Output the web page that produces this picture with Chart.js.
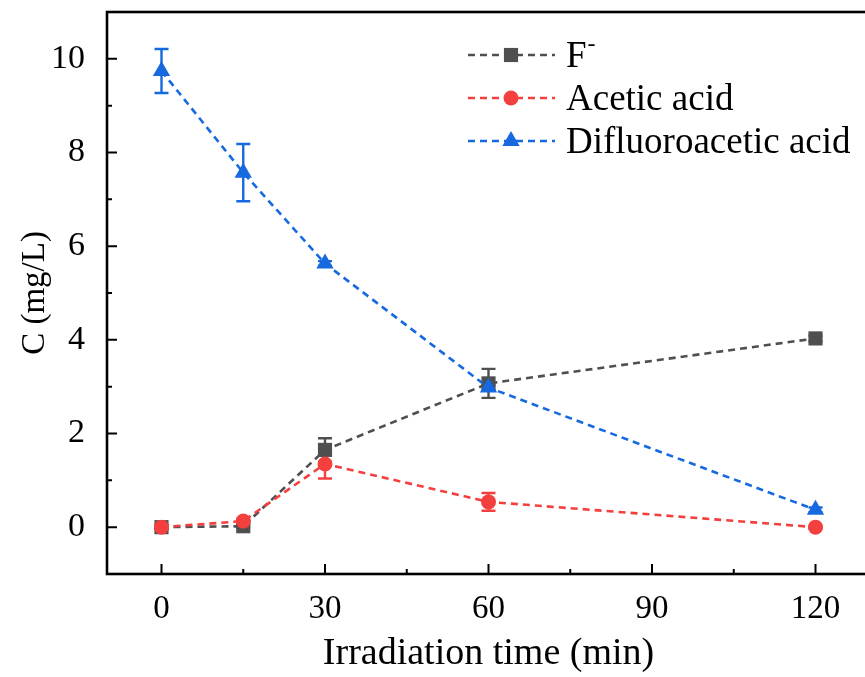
<!DOCTYPE html>
<html>
<head>
<meta charset="utf-8">
<script src="https://cdn.jsdelivr.net/npm/chart.js@4.4.1/dist/chart.umd.min.js"></script>
<style>
  html, body { margin: 0; padding: 0; background: #fff; overflow: hidden; }
  #wrap { width: 880px; height: 677px; }
</style>
</head>
<body>
<div id="wrap"><canvas id="chart"></canvas></div>
<script>
"use strict";

// 照射時間 (min)
const TIMES = [0, 15, 30, 60, 120];
const F_ION = [0, 0.02, 1.65, 3.07, 4.03];
const F_ION_ERR = [0.03, 0.03, 0.25, 0.31, 0.06];
const ACETIC = [0, 0.13, 1.35, 0.54, 0];
const ACETIC_ERR = [0.03, 0.05, 0.31, 0.19, 0.03];
const DFA = [9.74, 7.57, 5.63, 2.98, 0.37];
const DFA_ERR = [0.47, 0.61, 0.05, 0.05, 0.05];

const LABELS = ["F", "Acetic acid", "Difluoroacetic acid"];
const LABEL_SUP = ["-", "", ""];

const X_TICKS = [0, 30, 60, 90, 120];
const X_MINOR = [15, 45, 75, 105];
const Y_TICKS = [0, 2, 4, 6, 8, 10];
const Y_MINOR = [1, 3, 5, 7, 9];

const SERIF = "'Liberation Serif', 'Times New Roman', serif";
const DASH = [7, 5];

function points(ys) {
  return TIMES.map((t, i) => ({ x: t, y: ys[i] }));
}

function series(label, ys, errs, color, style, radius, order) {
  return {
    label,
    data: points(ys),
    errors: errs,
    showLine: true,
    borderColor: color,
    backgroundColor: color,
    borderWidth: 2.6,
    borderDash: DASH,
    pointStyle: style,
    pointRadius: radius,
    pointHoverRadius: radius,
    pointBorderWidth: 0,
    order,
  };
}

// エラーバー・枠・目盛り・凡例を描くプラグイン
const decor = {
  id: "decor",
  beforeDatasetsDraw(chart) {
    const { ctx, scales: { x, y } } = chart;
    ctx.save();
    chart.data.datasets.slice().reverse().forEach((ds) => {
      ctx.strokeStyle = ds.borderColor;
      ctx.lineWidth = 2.4;
      ctx.setLineDash([]);
      ds.data.forEach((p, i) => {
        const e = ds.errors[i];
        const px = x.getPixelForValue(p.x);
        const top = y.getPixelForValue(p.y + e);
        const bot = y.getPixelForValue(p.y - e);
        ctx.beginPath();
        ctx.moveTo(px, top); ctx.lineTo(px, bot);
        ctx.moveTo(px - 7, top); ctx.lineTo(px + 7, top);
        ctx.moveTo(px - 7, bot); ctx.lineTo(px + 7, bot);
        ctx.stroke();
      });
    });
    ctx.restore();
  },
  afterDraw(chart) {
    const { ctx, chartArea: a, scales: { x, y } } = chart;
    ctx.save();
    ctx.strokeStyle = "#000";
    ctx.lineWidth = 2.6;
    ctx.setLineDash([]);
    ctx.strokeRect(a.left, a.top, a.right - a.left, a.bottom - a.top);

    // 内向きの目盛り
    ctx.lineWidth = 2;
    ctx.beginPath();
    X_TICKS.forEach((v) => {
      const px = x.getPixelForValue(v);
      ctx.moveTo(px, a.bottom); ctx.lineTo(px, a.bottom - 10);
    });
    X_MINOR.forEach((v) => {
      const px = x.getPixelForValue(v);
      ctx.moveTo(px, a.bottom); ctx.lineTo(px, a.bottom - 5);
    });
    Y_TICKS.forEach((v) => {
      const py = y.getPixelForValue(v);
      ctx.moveTo(a.left, py); ctx.lineTo(a.left + 10, py);
    });
    Y_MINOR.forEach((v) => {
      const py = y.getPixelForValue(v);
      ctx.moveTo(a.left, py); ctx.lineTo(a.left + 5, py);
    });
    ctx.stroke();

    // 凡例
    chart.data.datasets.forEach((ds, i) => {
      const cy = 55 + 43 * i;
      ctx.strokeStyle = ds.borderColor;
      ctx.lineWidth = 2.6;
      ctx.setLineDash(DASH);
      ctx.beginPath();
      ctx.moveTo(468, cy); ctx.lineTo(555, cy);
      ctx.stroke();
      ctx.setLineDash([]);
      ctx.fillStyle = ds.backgroundColor;
      Chart.helpers.drawPoint(ctx, {
        pointStyle: ds.pointStyle, radius: ds.pointRadius, rotation: 0, borderWidth: 0,
      }, 511, cy);
      ctx.fillStyle = "#000";
      ctx.font = "37px " + SERIF;
      ctx.textBaseline = "middle";
      ctx.textAlign = "left";
      ctx.fillText(ds.label, 566, cy + 2);
      if (LABEL_SUP[i]) {
        const w = ctx.measureText(ds.label).width;
        ctx.font = "24px " + SERIF;
        ctx.fillText(LABEL_SUP[i], 566 + w + 1, cy - 10);
      }
    });
    ctx.restore();
  },
};

new Chart(document.getElementById("chart"), {
  type: "scatter",
  data: {
    datasets: [
      series(LABELS[0], F_ION, F_ION_ERR, "#4f4f4f", "rect", 10, 3),
      series(LABELS[1], ACETIC, ACETIC_ERR, "#f43f3f", "circle", 7.5, 2),
      series(LABELS[2], DFA, DFA_ERR, "#1769e0", "triangle", 10, 1),
    ],
  },
  options: {
    responsive: true,
    maintainAspectRatio: false,
    animation: false,
    layout: { padding: { top: 12, right: 10, left: 0, bottom: 0 } },
    plugins: { legend: { display: false }, tooltip: { enabled: false } },
    scales: {
      x: {
        type: "linear",
        min: -10,
        max: 130,
        afterBuildTicks: (s) => { s.ticks = X_TICKS.map((v) => ({ value: v })); },
        afterFit: (s) => { s.height = 103; s.paddingLeft = 0; s.paddingRight = 0; },
        grid: { display: false },
        border: { display: false },
        ticks: { color: "#000", font: { family: SERIF, size: 33 }, padding: 8, maxRotation: 0 },
        title: {
          display: true,
          text: "Irradiation time (min)",
          color: "#000",
          font: { family: SERIF, size: 38 },
          padding: { top: 2, bottom: 0 },
        },
      },
      y: {
        type: "linear",
        min: -1,
        max: 11,
        afterBuildTicks: (s) => { s.ticks = Y_TICKS.map((v) => ({ value: v })); },
        afterFit: (s) => { s.width = 107; s.paddingTop = 0; s.paddingBottom = 0; },
        grid: { display: false },
        border: { display: false },
        ticks: { color: "#000", font: { family: SERIF, size: 34 }, padding: 14 },
        title: {
          display: true,
          text: "C (mg/L)",
          color: "#000",
          font: { family: SERIF, size: 33 },
          padding: { top: 16, bottom: 0 },
        },
      },
    },
  },
  plugins: [decor],
});
</script>
</body>
</html>
